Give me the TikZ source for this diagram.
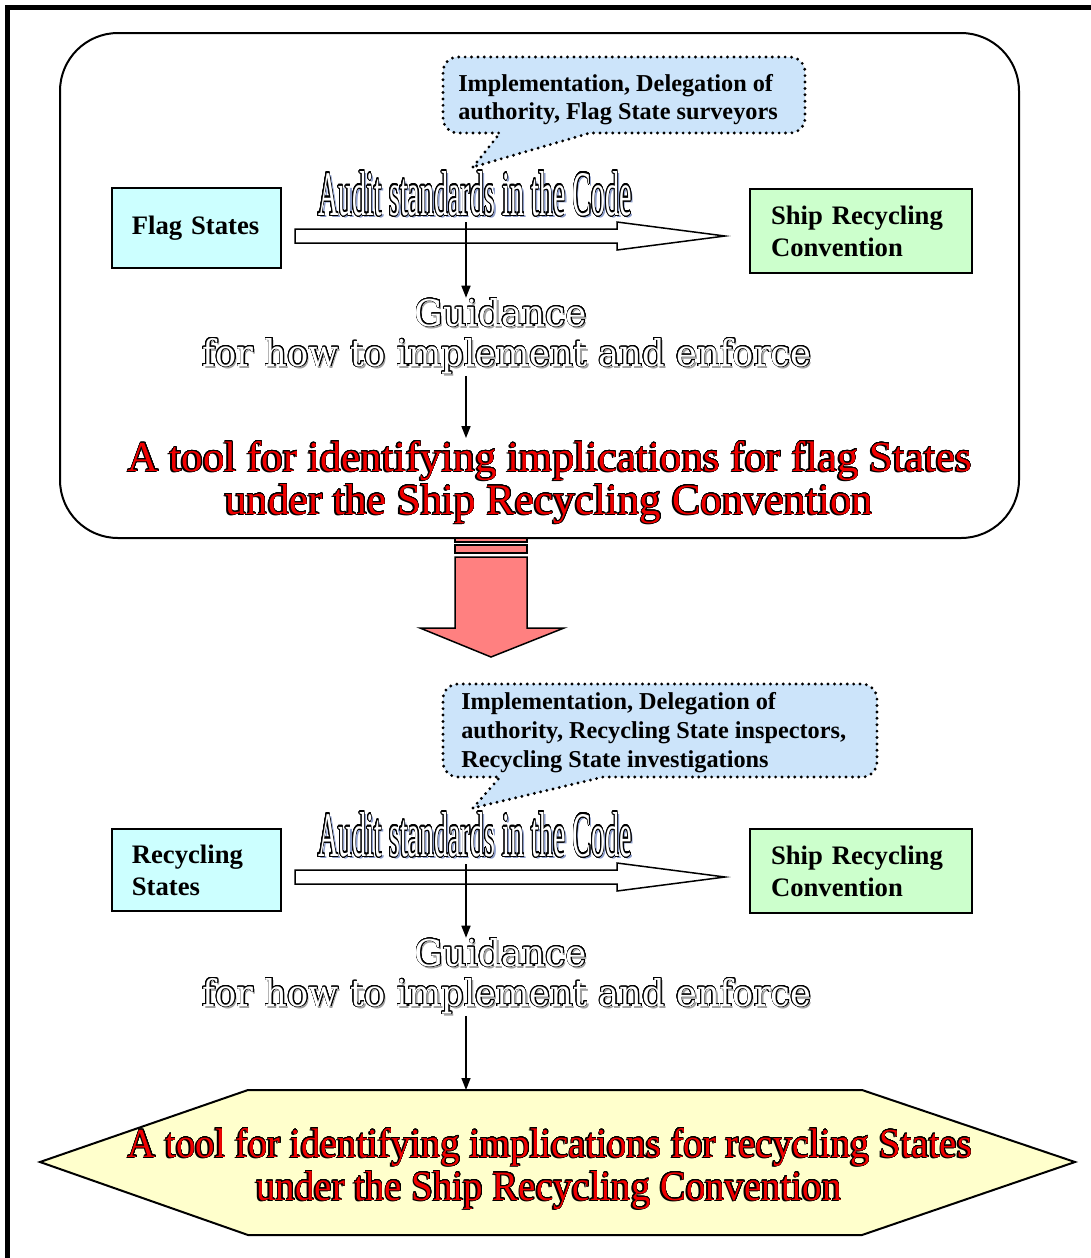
\documentclass[tikz,border=0pt]{standalone}
\usepackage{fontspec}
\setmainfont{Liberation Serif}
\newfontfamily\guidfont{DejaVu Serif}
\usepackage{graphicx}
\usepackage{contour}
\usetikzlibrary{arrows.meta}
\newdimen\PX \PX=0.75pt
\contourlength{0.55pt}
\contournumber{24}
\definecolor{bubblue}{HTML}{CCE4FA}
\definecolor{cyanbox}{HTML}{CCFFFF}
\definecolor{greenbox}{HTML}{CCFFCC}
\definecolor{hexfill}{HTML}{FFFFCC}
\definecolor{arrowred}{HTML}{FF8080}
\definecolor{auditshadow}{HTML}{8A9AC8}
\definecolor{guidshadow}{HTML}{A0A0A0}
\definecolor{tooltextred}{HTML}{F00000}
\newcommand{\auditfont}{\fontsize{48pt}{48pt}\selectfont\contourlength{0.9pt}}
\newcommand{\guidsize}{\guidfont\fontsize{27pt}{27pt}\selectfont}
\newcommand{\toolfont}{\fontsize{33pt}{33pt}\selectfont}
% #1 font, #2 shadow colour, #3 width, #4 height, #5 text
\newcommand{\outl}[5]{\leavevmode\rlap{\kern2\PX\raisebox{-2\PX}{\resizebox{#3}{#4}{#1\textcolor{#2}{#5}}}}\resizebox{#3}{#4}{#1\color{white}\contour{black}{#5}}}
% #1 width, #2 height, #3 text
\newcommand{\redt}[3]{\leavevmode\rlap{\kern-1.8\PX\raisebox{-1.4\PX}{\resizebox{#1}{#2}{\toolfont\textcolor{black}{#3}}}}\resizebox{#1}{#2}{\toolfont\color{tooltextred}\contourlength{0.3pt}\contour{black}{#3}}}
\begin{document}
\begin{tikzpicture}[x=0.75pt,y=-0.75pt,
  bubble/.style={fill=bubblue, draw=black, line width=2.4pt, dash pattern=on 0pt off 4.8pt, line cap=round},
  bubtext/.style={font=\bfseries\fontsize{18.2pt}{21.4pt}\selectfont, inner sep=0pt, anchor=base west},
  statebox/.style={draw=black, line width=1.125pt, font=\bfseries\fontsize{20pt}{24pt}\selectfont, align=left, inner ysep=0pt},
  hollow/.style={draw=black, fill=white, line width=1.125pt, line join=miter},
  varrow/.style={line width=1.125pt, -{Triangle[width=6.75pt,length=9pt]}},
  deco/.style={inner sep=0pt, anchor=base},
  redarr/.style={draw=black, fill=arrowred, line width=1.125pt}]
\useasboundingbox (0,0) rectangle (1091,1258);
\clip (0,0) rectangle (1091,1258);
% outer frame
\draw[line width=3.75pt] (7.5,1300) -- (7.5,7.5) -- (1120,7.5);
% upper rounded panel
\draw[line width=1.5pt, rounded corners=43.5pt] (60,33) rectangle (1019,538);

% ---------- upper section ----------
\draw[bubble] (473,167) -- (500,133) [rounded corners=11.25pt] -- (443,133) -- (443,57) -- (805,57) -- (805,133) [sharp corners] -- (590,133) -- cycle;
\node[bubtext] (b1l1) at (458,91) {Implementation, Delegation of};
\node[bubtext] (b1l2) at (458,119) {authority, Flag State surveyors};

\node[statebox, fill=cyanbox, text width=97pt, inner xsep=15pt, minimum height=60pt] (flag) at (196.5,228) {Flag States};
\node[statebox, fill=greenbox, text width=135pt, inner xsep=15.75pt, minimum height=63pt] (src1) at (861,231) {Ship Recycling\\Convention};

\draw[hollow] (295,229) -- (617,229) -- (617,222) -- (725,236) -- (617,250) -- (617,243) -- (295,243) -- cycle;

\node[deco] (aud1) at (475,215) {\outl{\auditfont}{auditshadow}{314\PX}{44\PX}{Audit standards in the Code}};
\node[deco] (g1a) at (501,326) {\outl{\guidsize}{guidshadow}{172\PX}{28\PX}{Guidance}};
\node[deco] (g1b) at (507,366) {\outl{\guidsize}{guidshadow}{609\PX}{28\PX}{for how to implement and enforce}};
\node[deco] (t1a) at (550,471) {\redt{844\PX}{30\PX}{A tool for identifying implications for flag States}};
\node[deco] (t1b) at (549,514) {\redt{648\PX}{30\PX}{under the Ship Recycling Convention}};

\coordinate (v1) at (466,222);
\draw[varrow] (v1) -- (v1 |- g1a.north);
\draw[varrow] (v1 |- g1b.south) -- ([yshift=2pt]v1 |- t1a.north);

% ---------- big red arrow ----------
\draw[redarr] (455,538) rectangle (527,542);
\draw[redarr] (455,545) rectangle (527,553);
\draw[redarr] (455,557) -- (527,557) -- (527,628) -- (564,628) -- (491,657) -- (420,628) -- (455,628) -- cycle;

% ---------- lower section ----------
\draw[bubble] (473,808) -- (500,777) [rounded corners=11.25pt] -- (443,777) -- (443,684) -- (877,684) -- (877,777) [sharp corners] -- (603,777) -- cycle;
\node[bubtext] (b2l1) at (461,709) {Implementation, Delegation of};
\node[bubtext] (b2l2) at (461,738) {authority, Recycling State inspectors,};
\node[bubtext] (b2l3) at (461,767) {Recycling State investigations};

\node[statebox, fill=cyanbox, text width=97pt, inner xsep=15pt, minimum height=61.5pt] (rec) at (196.5,870) {Recycling\\States};
\node[statebox, fill=greenbox, text width=135pt, inner xsep=15.75pt, minimum height=63pt] (src2) at (861,871) {Ship Recycling\\Convention};

\draw[hollow] (295,870) -- (617,870) -- (617,863) -- (725,877) -- (617,891) -- (617,884) -- (295,884) -- cycle;

\node[deco] (aud2) at (475,856) {\outl{\auditfont}{auditshadow}{314\PX}{44\PX}{Audit standards in the Code}};
\node[deco] (g2a) at (501,966) {\outl{\guidsize}{guidshadow}{172\PX}{28\PX}{Guidance}};
\node[deco] (g2b) at (507,1006) {\outl{\guidsize}{guidshadow}{609\PX}{28\PX}{for how to implement and enforce}};

\draw[line width=1.5pt, fill=hexfill] (40,1162) -- (248,1090) -- (862,1090) -- (1075,1162) -- (862,1235) -- (248,1235) -- cycle;
\coordinate (hexT) at (466,1090);

\node[deco] (t2a) at (550,1157) {\redt{844\PX}{29\PX}{A tool for identifying implications for recycling States}};
\node[deco] (t2b) at (549,1200) {\redt{585\PX}{29\PX}{under the Ship Recycling Convention}};

\coordinate (v3) at (466,864);
\draw[varrow] (v3) -- (v3 |- g2a.north);
\draw[varrow] (v3 |- g2b.south) -- (hexT);
\end{tikzpicture}
\end{document}
